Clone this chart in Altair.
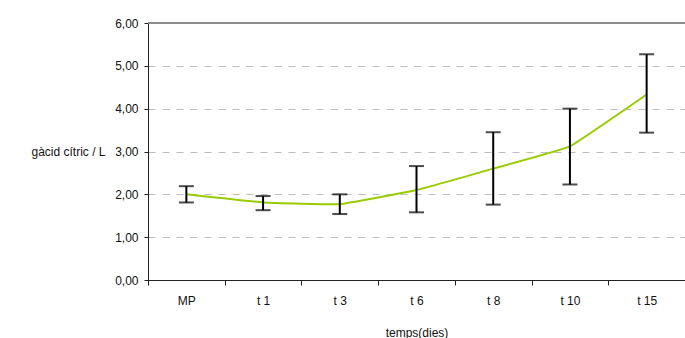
import altair as alt
import pandas as pd

# Citric acid over storage time: mean with lower/upper error limits
temps = ["MP", "t 1", "t 3", "t 6", "t 8", "t 10", "t 15"]
mitjana = [2.00, 1.81, 1.77, 2.10, 2.60, 3.12, 4.33]
inferior = [1.81, 1.63, 1.54, 1.58, 1.76, 2.23, 3.44]
superior = [2.19, 1.96, 2.00, 2.66, 3.45, 4.00, 5.27]

df = pd.DataFrame({"temps": temps, "mitjana": mitjana,
                   "inferior": inferior, "superior": superior})

FONT = "Liberation Sans"

x = alt.X("temps:N", sort=temps,
          scale=alt.Scale(paddingInner=0, paddingOuter=0),
          axis=alt.Axis(title="temps(dies)", labelAngle=0, tickBand="extent",
                        domainColor="#222222", tickColor="#222222", tickSize=5,
                        labelPadding=10, labelFontSize=12, labelColor="#111111",
                        titleFontWeight="normal", titleFontSize=12,
                        titleY=52, titleBaseline="middle", titleColor="#111111"))

y_scale = alt.Scale(domain=[0, 6], nice=False)
y = alt.Y("mitjana:Q", scale=y_scale,
          axis=alt.Axis(title="gàcid cítric / L", values=[0, 1, 2, 3, 4, 5, 6],
                        labelExpr="replace(format(datum.value, '.2f'), '.', ',')",
                        grid=True, gridDash=[7, 7], gridColor="#bdbdbd",
                        domainColor="#222222", tickColor="#222222", tickSize=4,
                        labelPadding=6, labelFontSize=12, labelColor="#111111",
                        titleAngle=0, titleAlign="right", titleBaseline="middle",
                        titleX=-43, titleY=128.6, titleFontWeight="normal",
                        titleFontSize=12, titleColor="#111111"))

base = alt.Chart(df)

top_border = base.mark_rule(color="#8c8c8c", strokeWidth=2).encode(y=alt.datum(6, scale=y_scale))

line = base.mark_line(color="#99CC00", strokeWidth=2, interpolate="cardinal",
                      tension=0.75).encode(x=x, y=y)

bars = base.mark_rule(color="black", strokeWidth=2).encode(
    x=alt.X("temps:N", sort=temps), y=alt.Y("inferior:Q"), y2="superior:Q")

cap_lo = base.mark_tick(color="black", thickness=2, size=15, orient="horizontal").encode(
    x=alt.X("temps:N", sort=temps), y=alt.Y("inferior:Q"))
cap_hi = base.mark_tick(color="black", thickness=2, size=15, orient="horizontal").encode(
    x=alt.X("temps:N", sort=temps), y=alt.Y("superior:Q"))

chart = alt.layer(line, top_border, bars, cap_lo, cap_hi).properties(
    width=537, height=257,
    padding={"left": 148, "top": 23, "right": 0, "bottom": 58},
    autosize=alt.AutoSizeParams(type="none"),
).configure(font=FONT).configure_view(stroke=None)

chart.save("out.html", embed_options={"renderer": "svg", "actions": False})
